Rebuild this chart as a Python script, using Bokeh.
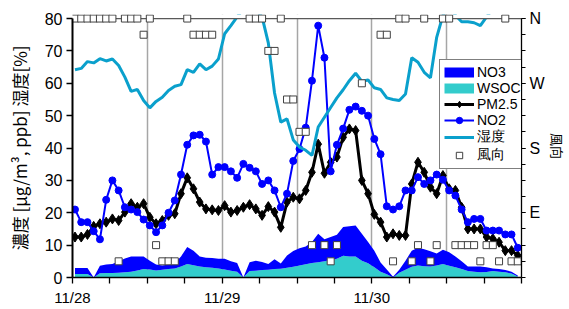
import math
import numpy as np
from bokeh.plotting import figure
from bokeh.models import (LinearAxis, FixedTicker, Legend, LegendItem, ColumnDataSource,
                          Range1d, Grid)
from bokeh.embed import file_html
from bokeh.resources import INLINE

nan = float("nan")

# hourly data, index = hours since 11/28 00:00
hour_offset = 0.4
hours = np.arange(72) + hour_offset

wsoc = [1.1, 1.1, 1.1, 0, 1.3, 1.4, 1.4, 1.5, 1.6, 1.8,
        2.2, 2.6, 2.5, 2.2, 2.4, 2.6, 2.8, 3.4, 4.2, 3.8,
        3.4, 3.2, 3.0, 2.8, 2.5, 2.1, 1.8, 0, 2.0, 2.1,
        2.3, 2.4, 2.6, 2.7, 3.0, 3.3, 3.7, 4.1, 4.5, 4.7,
        5.0, 5.4, 5.8, 6.7, 6.5, 6.5, 5.2, 4.4, 3.2, 1.8,
        1.0, 0, 1.5, 2.4, 3.3, 3.7, 3.5, 3.4, 3.7, 4.2,
        3.6, 3.2, 2.6, 2.0, 1.8, 1.6, 1.7, 2.0, 1.8, 1.6,
        1.2, 0.3]
no3 = [1.8, 1.8, 1.8, 0, 2.3, 2.6, 2.8, 3.5, 4.3, 4.7,
       4.3, 3.9, 2.7, 1.8, 1.3, 1.4, 1.7, 3.1, 5.2, 4.5,
       3.1, 2.9, 3.0, 3.0, 3.3, 2.9, 2.7, 0, 2.7, 3.1,
       2.5, 1.8, 3.0, 1.6, 3.8, 4.9, 5.3, 5.5, 6.5, 8.8,
       6.8, 7.1, 7.4, 8.9, 9.3, 9.6, 8.3, 6.6, 5.1, 2.8,
       1.5, 0.2, 0.9, 2.8, 5.0, 5.5, 5.2, 4.7, 3.7, 4.4,
       4.2, 3.3, 2.4, 1.4, 1.6, 1.8, 1.5, 0.8, 0.8, 0.7,
       0.6, 0.3]
pm25 = [12.5, 12.5, 13.3, 15.8, 16.6, 17.1, 18.1, 17.6, 20.2, 22.8,
        21.7, 22.8, 18.6, 16.6, 17.6, 19.2, 19.7, 25.9, 30.8, 27.4,
        23.3, 21.2, 20.9, 20.7, 22.2, 20.2, 20.7, 21.7, 22.5, 21.2,
        19.2, 21.9, 20.2, 15.5, 23.3, 24.8, 24.3, 26.9, 32.5, 41.2,
        32.2, 35.6, 37.2, 43.3, 45.9, 45.4, 30.0, 25.9, 19.5, 17.1,
        12.5, 13.5, 13.0, 13.0, 28.9, 35.6, 32.5, 27.9, 25.9, 31.5,
        27.4, 26.9, 21.7, 15.0, 15.0, 15.0, 12.5, 12.0, 10.9, 8.3,
        8.3, 6.8]
no2 = [21.0, 17.1, 17.1, 14.3, 11.8, 24.0, 30.0, 26.9, 21.7, 21.0,
       20.2, 17.9, 16.1, 14.0, 16.1, 20.0, 23.8, 31.8, 41.0, 43.9,
       44.1, 42.0, 31.8, 34.1, 34.1, 32.8, 30.8, 35.1, 33.9, 32.8,
       28.9, 30.0, 26.9, 21.7, 25.9, 36.0, 39.7, 46.3, 60.8, 77.8,
       67.9, 32.8, 41.0, 46.0, 51.8, 52.8, 51.5, 50.0, 42.8, 38.1,
       22.0, 21.0, 22.0, 26.9, 26.9, 31.0, 28.9, 30.0, 31.8, 30.2,
       26.9, 25.3, 21.0, 17.1, 18.1, 18.1, 14.5, 14.5, 14.5, 13.3,
       13.3, 9.2]
humidity = [64.2, 64.6, 66.7, 66.3, 67.6, 66.9, 67.5, 65.5, 61.9, 57.5,
            58.1, 54.7, 52.4, 54.4, 55.7, 57.8, 59.1, 59.6, 64.2, 63.4,
            66.0, 64.2, 65.3, 67.5, 75.3, 77.8, 80.5, 83.0, 84.0, 83.0,
            80.5, 72.5, 57.0, 48.0, 49.0, 42.5, 40.3, 39.3, 37.7, 46.5,
            49.5, 52.5, 55.5, 58.0, 60.8, 63.1, 60.6, 61.0, 58.6, 58.1,
            55.5, 55.0, 54.7, 56.7, 67.9, 66.5, 63.4, 61.7, 74.2, 81.0,
            84.0, 81.0, 79.0, 79.0, 78.7, 77.8, 80.5, 83.0, 84.0, 85.0,
            85.0, 85.0]
# wind direction on the right axis scale: N=80 (and 0), W=60, S=40, E=20; 5 units = 22.5 deg
wind = [80, 80, 80, 80, 80, 80, 80, 5, 80, 80,
        80, 75, 80, 10, 5, 5, 5, nan, 80, 75,
        75, 75, 75, nan, nan, nan, nan, nan, 80, 80,
        80, 70, 70, 80, 55, 55, 45, 45, 10, nan,
        10, 5, 10, nan, nan, nan, 60, nan, nan, 75,
        75, 5, 80, 80, 5, 10, 80, 5, 10, 80,
        80, 10, 10, 10, 10, 5, 10, 10, 5, 80,
        5, 5]

day_ticks = [0, 24, 48]
day_labels = ["11/28", "11/29", "11/30"]
x_ticks = list(range(0, 73, 6))
half_day_lines = [12, 24, 36, 48, 60]
left_ticks = list(range(0, 81, 10))
wind_ticks = [20, 40, 60, 80]
wind_labels = ["E", "S", "W", "N"]
wind_minor = list(range(0, 81, 5))

x_start, x_end = 0, 72
y_top = 80
y_pad = 1.25

C_NO3 = "#0000FF"
C_WSOC = "#33CCCC"
C_PM = "#000000"
C_NO2 = "#0000FF"
C_HUM = "#0AA0CC"

TICK_FONT = "Liberation Sans"
JP_FONT = "Noto Sans CJK JP"

p = figure(width=569, height=309, x_range=Range1d(x_start, x_end),
           y_range=Range1d(0, y_top + y_pad), output_backend="svg",
           toolbar_location=None, x_axis_type=None, y_axis_type=None,
           min_border_left=72, min_border_right=46, min_border_top=14,
           min_border_bottom=32)
p.outline_line_color = None
p.background_fill_color = "white"
p.border_fill_color = "white"

grid = Grid(dimension=0, ticker=FixedTicker(ticks=half_day_lines),
            grid_line_color="#A6A6A6", grid_line_width=1.5)
p.add_layout(grid)

src = ColumnDataSource(dict(t=hours, wsoc=wsoc, no3=no3, pm25=pm25, no2=no2,
                            hum=humidity, wind=wind))

p.varea_stack(stackers=["wsoc", "no3"], x="t", color=[C_WSOC, C_NO3], source=src)

pm_line = p.line("t", "pm25", source=src, line_color=C_PM, line_width=3)
pm_pts = p.scatter("t", "pm25", source=src, marker="diamond", size=10,
                   fill_color=C_PM, line_color=C_PM)
no2_line = p.line("t", "no2", source=src, line_color=C_NO2, line_width=2)
no2_pts = p.scatter("t", "no2", source=src, marker="circle", size=7,
                    fill_color=C_NO2, line_color=C_NO2)
hum_line = p.line("t", "hum", source=src, line_color=C_HUM, line_width=3)

# mask above the 80 line (Excel clips the humidity at the plot top)
p.quad(left=[x_start], right=[x_end], bottom=[y_top], top=[y_top + y_pad],
       fill_color="white", line_color=None)
p.segment(x0=[x_start], x1=[x_end], y0=[y_top], y1=[y_top],
          line_color="#595959", line_width=1.3)

wind_pts = p.scatter("t", "wind", source=src, marker="square", size=7,
                     fill_color="white", line_color="#404040", line_width=1)

# legend-only glyphs for the area series (nothing drawn in the plot)
no3_leg = p.line(x=[nan, nan], y=[nan, nan], line_color=C_NO3, line_width=10, line_cap="butt")
wsoc_leg = p.line(x=[nan, nan], y=[nan, nan], line_color=C_WSOC, line_width=10, line_cap="butt")

# axes
xax = LinearAxis(ticker=FixedTicker(ticks=x_ticks),
                 major_label_overrides={t: (day_labels[day_ticks.index(t)] if t in day_ticks else "")
                                        for t in x_ticks})
xax.axis_line_color = "black"
xax.axis_line_width = 1.5
xax.major_tick_in = 0
xax.major_tick_out = 6
xax.major_tick_line_width = 1.3
xax.minor_tick_line_color = None
xax.major_label_standoff = 5
xax.major_label_text_font = TICK_FONT
xax.major_label_text_font_size = "15px"
xax.major_label_text_color = "black"
p.add_layout(xax, "below")

yl = LinearAxis(ticker=FixedTicker(ticks=left_ticks), bounds=(0, y_top),
                axis_label="濃度 [μg/m³, ppb]  湿度[%]")
yl.axis_line_color = "black"
yl.axis_line_width = 2
yl.major_tick_in = 0
yl.major_tick_out = 6
yl.major_tick_line_width = 1.3
yl.minor_tick_line_color = None
yl.major_label_standoff = 4
yl.major_label_text_font = TICK_FONT
yl.major_label_text_font_size = "16px"
yl.major_label_text_color = "black"
yl.axis_label_text_font = JP_FONT
yl.axis_label_text_font_size = "17px"
yl.axis_label_text_font_style = "normal"
yl.axis_label_text_color = "black"
yl.axis_label_standoff = 10
p.add_layout(yl, "left")

yr = LinearAxis(ticker=FixedTicker(ticks=wind_ticks, minor_ticks=wind_minor), bounds=(0, y_top),
                major_label_overrides={t: l for t, l in zip(wind_ticks, wind_labels)},
                axis_label="風向")
yr.axis_line_color = "black"
yr.axis_line_width = 1.3
yr.major_tick_in = 0
yr.major_tick_out = 4
yr.minor_tick_in = 0
yr.minor_tick_out = 4
yr.major_tick_line_width = 1
yr.minor_tick_line_width = 1
yr.minor_tick_line_color = "black"
yr.major_label_standoff = 4
yr.major_label_text_font = TICK_FONT
yr.major_label_text_font_size = "16px"
yr.major_label_text_color = "black"
yr.axis_label_text_font = JP_FONT
yr.axis_label_text_font_size = "13px"
yr.axis_label_text_font_style = "normal"
yr.axis_label_text_color = "black"
yr.axis_label_standoff = 0
p.add_layout(yr, "right")

legend = Legend(items=[
    LegendItem(label="NO3", renderers=[no3_leg]),
    LegendItem(label="WSOC", renderers=[wsoc_leg]),
    LegendItem(label="PM2.5", renderers=[pm_line, pm_pts]),
    LegendItem(label="NO2", renderers=[no2_line, no2_pts]),
    LegendItem(label="湿度", renderers=[hum_line]),
    LegendItem(label="風向", renderers=[wind_pts]),
], location=(367, 108))
legend.border_line_color = "black"
legend.border_line_width = 1
legend.background_fill_color = "white"
legend.background_fill_alpha = 1
legend.label_text_font = TICK_FONT
legend.label_text_font_size = "14px"
legend.label_text_color = "black"
legend.glyph_width = 30
legend.glyph_height = 16
legend.label_height = 16
legend.label_standoff = 3
legend.spacing = 0
legend.padding = 4
legend.margin = 0
p.add_layout(legend)

open("out.html", "w").write(file_html(p, INLINE))
